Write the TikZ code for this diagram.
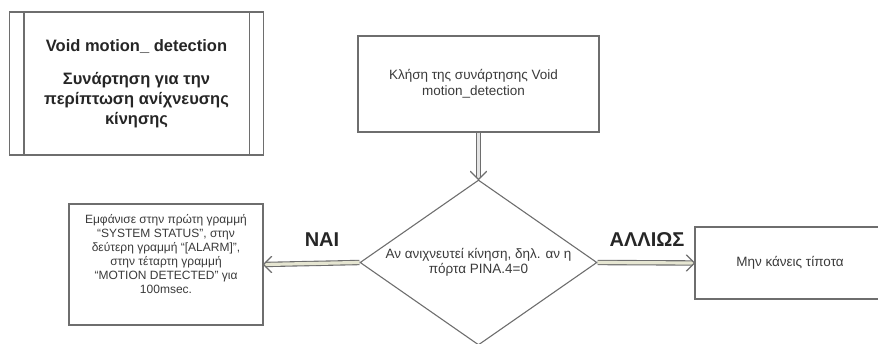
\documentclass[tikz,border=0pt]{standalone}
\usepackage{fontspec}
\setmainfont{Liberation Sans}
\usetikzlibrary{shapes.geometric}

\definecolor{edge}{HTML}{6E6E6E}
\definecolor{ink}{HTML}{3A3A3A}
\definecolor{dblfill}{HTML}{E6E6D2}
\definecolor{dblgray}{HTML}{E4E4E4}

\tikzset{
  box/.style={draw=edge, line width=1.1pt, rectangle, inner sep=0pt},
  smalltext/.style={text=ink, align=center, inner sep=0pt,
                    font=\fontsize{13.5}{15.5}\selectfont},
  bigtext/.style={text=black!85, align=center, inner sep=0pt,
                  font=\fontsize{20}{22}\selectfont\bfseries},
  dblline/.style={draw=edge, line width=1.1pt, double=dblfill,
                  double distance=3.2pt, shorten >=1.5pt},
  chevron/.style={draw=edge, line width=1.3pt, line join=round, line cap=round},
}

\begin{document}
\begin{tikzpicture}[x=1pt, y=-1pt]
  \useasboundingbox (0,0) rectangle (878,344);

  % predefined process: the function definition
  \node[box, minimum width=254pt, minimum height=143pt,
        text=black!85, align=center,
        font=\fontsize{16.5}{20}\selectfont\bfseries] (func) at (136.5,83.5)
    {Void motion\_ detection\\[13pt]
     Συνάρτηση για την\\ περίπτωση ανίχνευσης\\ κίνησης};
  \draw[edge, line width=1.1pt] ([xshift=15pt]func.north west) -- ([xshift=15pt]func.south west);
  \draw[edge, line width=1.1pt] ([xshift=-15pt]func.north east) -- ([xshift=-15pt]func.south east);

  % call of the function
  \node[box, minimum width=241pt, minimum height=96pt] (call) at (478.5,84) {};
  \node[smalltext] (calltext) at ([xshift=-5pt]call.center)
    {Κλήση της συνάρτησης Void\\ motion\_detection};

  % decision
  \node[draw=edge, line width=1.1pt, diamond, inner sep=0pt,
        minimum width=237pt, minimum height=165pt] (test) at (478.5,262.5) {};
  \node[smalltext] (testtext) at (test.center)
    {Αν ανιχνευτεί κίνηση, δηλ. αν η\\ πόρτα PINA.4=0};

  % yes branch
  \node[box, minimum width=194pt, minimum height=121pt] (show) at (166,264.5) {};
  \node[smalltext, font=\fontsize{12}{14}\selectfont] (showtext) at ([yshift=10pt]show.center)
    {Εμφάνισε στην πρώτη γραμμή\\ “SYSTEM STATUS”, στην\\ δεύτερη γραμμή “[ALARM]”,\\
     στην τέταρτη γραμμή\\ “MOTION DETECTED” για\\ 100msec.};

  % otherwise branch
  \node[box, minimum width=190pt, minimum height=72pt] (idle) at (790,263) {};
  \node[smalltext] (idletext) at (idle.center) {Μην κάνεις τίποτα};

  % connectors: double shafts with open chevron heads
  \draw[dblline, double=dblgray] (call.south) -- (test.north);
  \draw[chevron] ([shift={(-8,-8)}]test.north) -- (test.north) -- ([shift={(8,-8)}]test.north);

  \draw[dblline] (test.west) -- (show.east);
  \draw[chevron] ([shift={(8,-8)}]show.east) -- (show.east) -- ([shift={(8,8)}]show.east);

  \draw[dblline] (test.east) -- (idle.west);
  \draw[chevron] ([shift={(-8,-8)}]idle.west) -- (idle.west) -- ([shift={(-8,8)}]idle.west);

  \node[bigtext] (yes) at (322,240) {ΝΑΙ};
  \node[bigtext] (else) at (647,240) {ΑΛΛΙΩΣ};
\end{tikzpicture}
\end{document}
